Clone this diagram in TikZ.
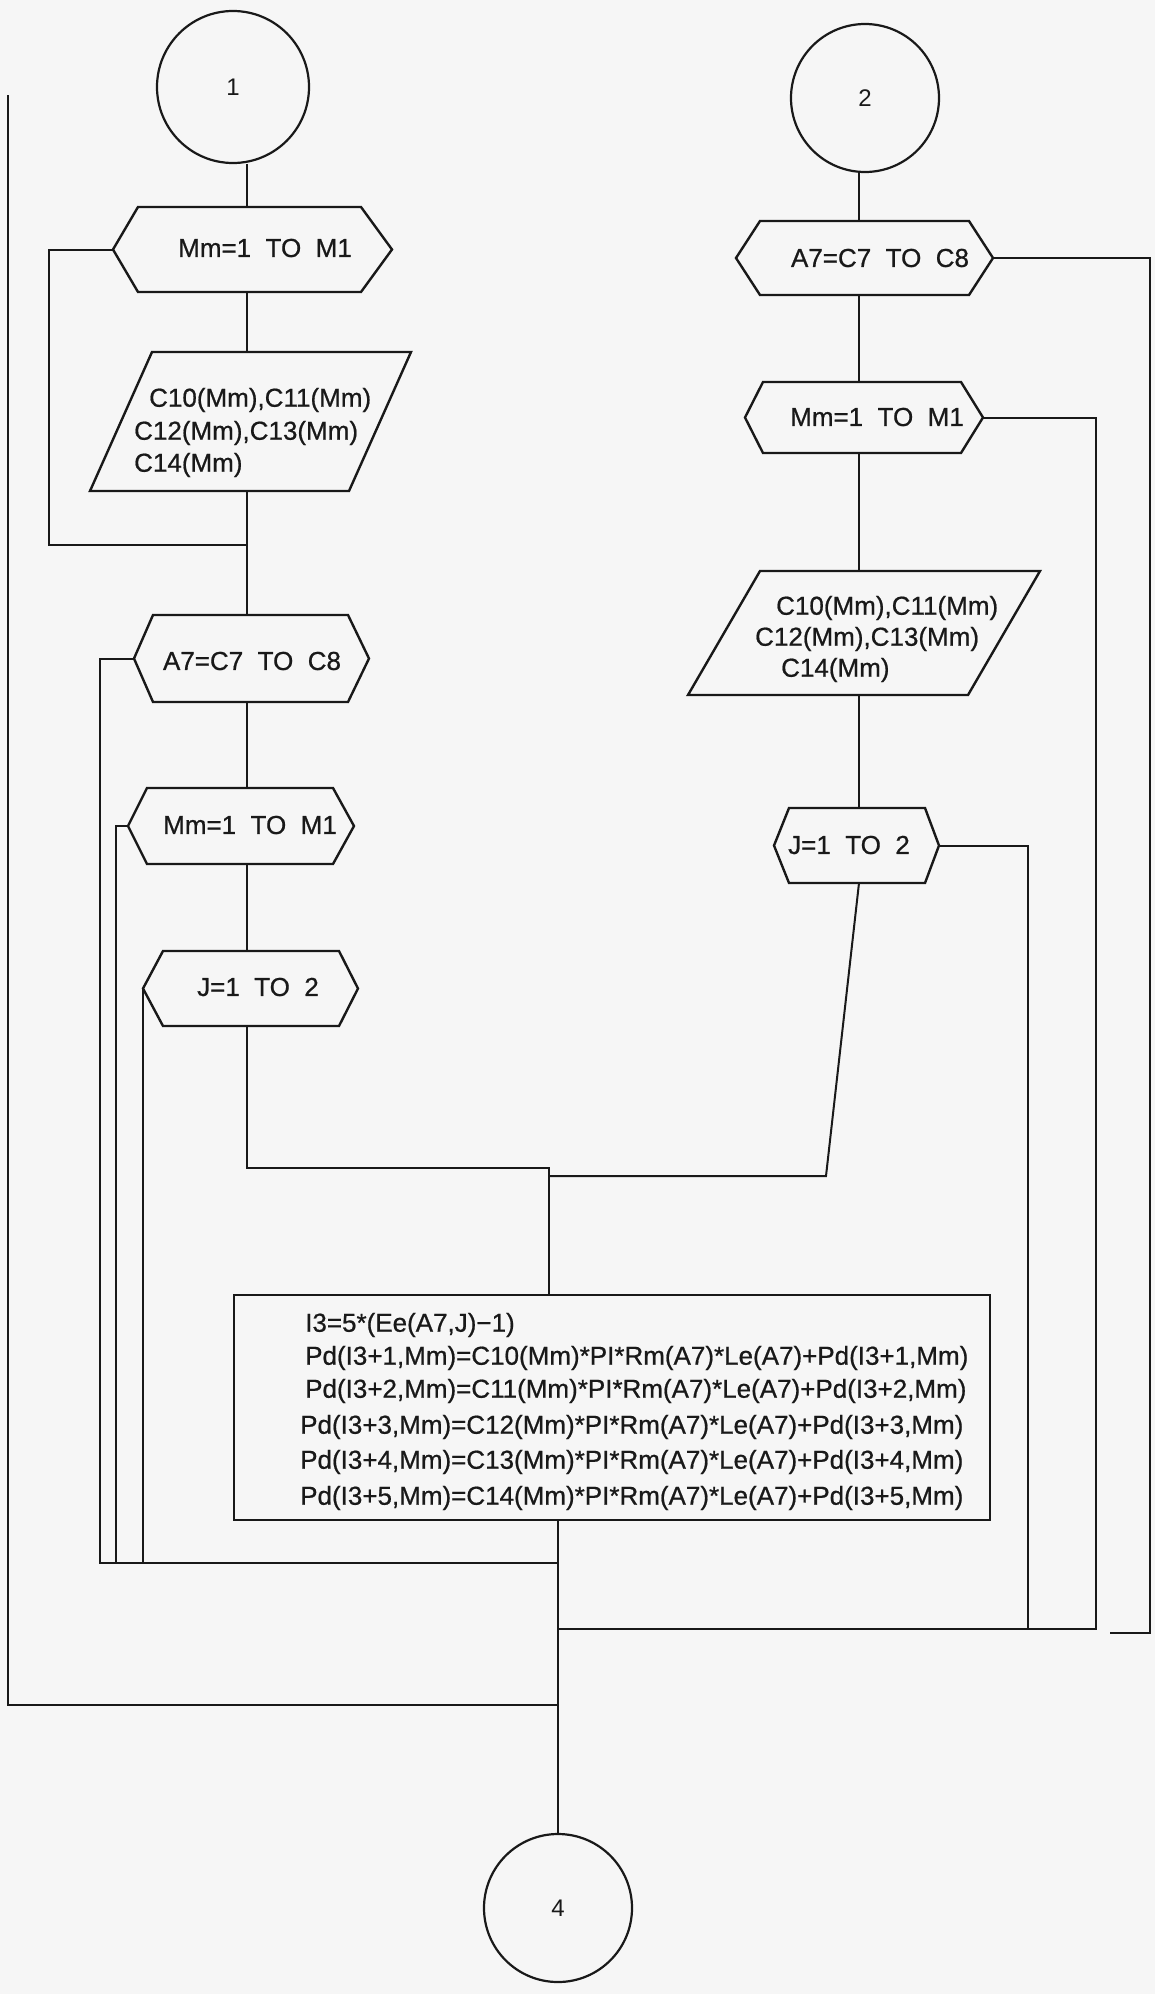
\documentclass[tikz,border=0pt]{standalone}
\usepackage{fontspec}
\setmainfont{Liberation Sans}
\newfontfamily\plotfont{Liberation Sans}[FakeBold=0.7]
\usetikzlibrary{calc}
\definecolor{paper}{RGB}{246,246,246}
\definecolor{ink}{RGB}{25,25,25}
\tikzset{
  frame/.style={draw=none, inner sep=0pt, outer sep=0pt, rectangle},
  outline/.style={draw=ink, line width=2.4pt, line join=miter},
  flow/.style={draw=ink, line width=2pt},
  lbl/.style={inner sep=0pt, font=\plotfont\fontsize{26}{30}\selectfont, text=ink},
  wlbl/.style={lbl, anchor=west},
  conn/.style={circle, draw=ink, line width=2.2pt, inner sep=0pt, font=\fontsize{24}{28}\selectfont, text=ink},
}
\newcommand\hexnode[7]{%
  \node[frame, minimum width=#4pt, minimum height=#5pt] (#1) at (#2,#3) {};
  \draw[outline] (#1.west) -- ([xshift=#6pt]#1.north west) -- ([xshift=-#7pt]#1.north east) -- (#1.east) -- ([xshift=-#7pt]#1.south east) -- ([xshift=#6pt]#1.south west) -- cycle;
}
\newcommand\paranode[6]{%
  \node[frame, minimum width=#4pt, minimum height=#5pt] (#1) at (#2,#3) {};
  \draw[outline] (#1.south west) -- ([xshift=#6pt]#1.north west) -- (#1.north east) -- ([xshift=-#6pt]#1.south east) -- cycle;
}
\begin{document}
\begin{tikzpicture}[x=1pt,y=-1pt]
\fill[paper] (0,0) rectangle (1155,1994);
\useasboundingbox (0,0) rectangle (1155,1994);

% ---------- left column ----------
\node[conn, minimum size=152pt] (c1) at (233,87) {1};
\hexnode{h1}{252.5}{249.5}{279}{85}{25}{31}
\node[lbl] (t1) at (265,248) {Mm=1\ \ TO\ \ M1};
\paranode{p1}{250.5}{421.5}{321}{139}{62}
\node[wlbl] (p1a) at (149,400) {C10(Mm),C11(Mm)};
\node[wlbl] (p1b) at (134,433) {C12(Mm),C13(Mm)};
\node[wlbl] (p1c) at (134,465) {C14(Mm)};
\hexnode{h2}{251.5}{658.5}{235}{87}{19}{21}
\node[lbl] (t2) at (252,661) {A7=C7\ \ TO\ \ C8};
\hexnode{h3}{241}{826}{226}{76}{19}{21}
\node[lbl] (t3) at (250,825) {Mm=1\ \ TO\ \ M1};
\hexnode{h4}{250.5}{988.5}{215}{75}{20}{19}
\node[lbl] (t4) at (258,987) {J=1\ \ TO\ \ 2};

% ---------- right column ----------
\node[conn, minimum size=148pt] (c2) at (865,98) {2};
\hexnode{h5}{864.5}{258}{257}{74}{24}{24}
\node[lbl] (t5) at (880,258) {A7=C7\ \ TO\ \ C8};
\hexnode{h6}{864}{417.5}{238}{71}{18}{22}
\node[lbl] (t6) at (877,417) {Mm=1\ \ TO\ \ M1};
\paranode{p2}{864}{633}{352}{124}{72}
\node[wlbl] (p2a) at (776,608) {C10(Mm),C11(Mm)};
\node[wlbl] (p2b) at (755,639) {C12(Mm),C13(Mm)};
\node[wlbl] (p2c) at (781,670) {C14(Mm)};
\hexnode{h7}{856.5}{845.5}{165}{75}{15}{14}
\node[lbl] (t7) at (849,845) {J=1\ \ TO\ \ 2};

% ---------- process box ----------
\node[frame, draw=ink, line width=2.6pt, minimum width=756pt, minimum height=225pt] (box) at (612,1407.5) {};
\node[wlbl] (b1) at (305,1325) {I3=5*(Ee(A7,J)−1)};
\node[wlbl] (b2) at (305,1358) {Pd(I3+1,Mm)=C10(Mm)*PI*Rm(A7)*Le(A7)+Pd(I3+1,Mm)};
\node[wlbl] (b3) at (305,1391) {Pd(I3+2,Mm)=C11(Mm)*PI*Rm(A7)*Le(A7)+Pd(I3+2,Mm)};
\node[wlbl] (b4) at (300,1427) {Pd(I3+3,Mm)=C12(Mm)*PI*Rm(A7)*Le(A7)+Pd(I3+3,Mm)};
\node[wlbl] (b5) at (300,1462) {Pd(I3+4,Mm)=C13(Mm)*PI*Rm(A7)*Le(A7)+Pd(I3+4,Mm)};
\node[wlbl] (b6) at (300,1498) {Pd(I3+5,Mm)=C14(Mm)*PI*Rm(A7)*Le(A7)+Pd(I3+5,Mm)};

\node[conn, minimum size=148pt] (c4) at (558,1908) {4};

% ---------- guide coordinates ----------
\coordinate (Lx) at (247,0);
\coordinate (Rx) at (859,0);
\coordinate (Bx) at (558,0);
\coordinate (l1) at (49,545);
\coordinate (m1) at (247,1168);
\coordinate (m2) at (549,1168);
\coordinate (d1) at (826,1176);
\coordinate (bl) at (100,1563);
\coordinate (bl3) at (116,1563);
\coordinate (lt) at (8,95);
\coordinate (lb) at (8,1705);
\coordinate (ra) at (1150,1633);
\coordinate (raend) at (1110,1633);
\coordinate (rm) at (1096,1629);
\coordinate (rj) at (1028,1629);

% ---------- left column connectors ----------
\draw[flow] (c1.south -| Lx) -- (h1.north -| Lx);
\draw[flow] (h1.south -| Lx) -- (p1.north -| Lx);
\draw[flow] (p1.south -| Lx) -- (h2.north -| Lx);
\draw[flow] (h1.west) -| (l1) -- (l1 -| Lx);
\draw[flow] (h2.south -| Lx) -- (h3.north -| Lx);
\draw[flow] (h3.south -| Lx) -- (h4.north -| Lx);
\draw[flow] (h4.south -| Lx) -- (m1) -- (m2) -- (box.north -| m2);
\draw[flow] (h2.west) -| (bl) -- (bl -| Bx);
\draw[flow] (h3.west) -| (bl3);
\draw[flow] (h4.west) -- (h4.west |- bl);
\draw[flow] (box.south -| Bx) -- (c4.north);
\draw[flow] (lt) -- (lb) -- (lb -| Bx);

% ---------- right column connectors ----------
\draw[flow] (c2.south -| Rx) -- (h5.north -| Rx);
\draw[flow] (h5.south -| Rx) -- (h6.north -| Rx);
\draw[flow] (h6.south -| Rx) -- (p2.north -| Rx);
\draw[flow] (p2.south -| Rx) -- (h7.north -| Rx);
\draw[flow] (h7.south -| Rx) -- (d1) -- (d1 -| m2);
\draw[flow] (h5.east) -| (ra) -- (raend);
\draw[flow] (h6.east) -| (rm) -- (rm -| Bx);
\draw[flow] (h7.east) -| (rj);
\end{tikzpicture}
\end{document}
